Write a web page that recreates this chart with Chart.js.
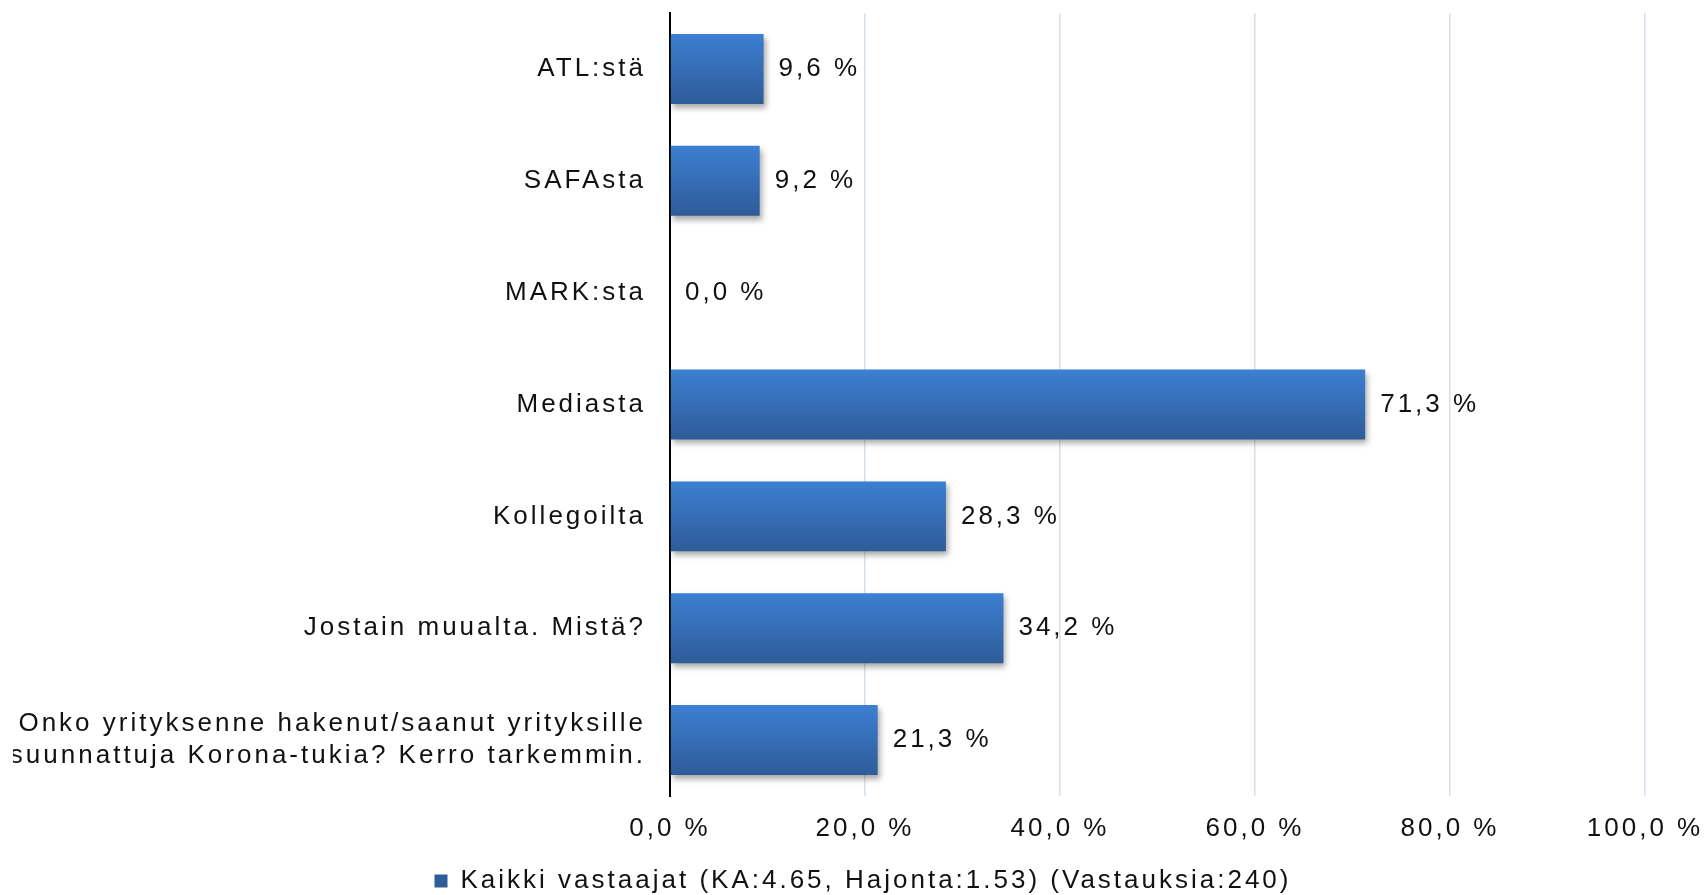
<!DOCTYPE html>
<html lang="fi">
<head>
<meta charset="utf-8">
<title>Mistä olette saaneet tietoa</title>
<script src="https://cdn.jsdelivr.net/npm/chart.js@4/dist/chart.umd.min.js"></script>
<style>
  html, body { margin:0; padding:0; background:#fff; }
  .wrap { width:1704px; height:895px; position:relative; }
</style>
</head>
<body>
<div class="wrap"><canvas id="chart"></canvas></div>
<script>
// answer categories, top to bottom
const categories = [
  'ATL:stä',
  'SAFAsta',
  'MARK:sta',
  'Mediasta',
  'Kollegoilta',
  'Jostain muualta. Mistä?',
  ['Onko yrityksenne hakenut/saanut yrityksille', 'suunnattuja Korona-tukia? Kerro tarkemmin.']
];
// share of respondents, %
const shares = [9.6, 9.2, 0.0, 71.3, 28.3, 34.2, 21.3];
const xTicks = [0, 20, 40, 60, 80, 100];
const seriesName = 'Kaikki vastaajat (KA:4.65, Hajonta:1.53) (Vastauksia:240)';

const FONT = "'Liberation Sans', Arial, sans-serif";
const BAR_PCT = 0.625;
const fmt = v => v.toFixed(1).replace('.', ',') + ' %';

// vertical gradient per bar, built from the category scale
function barFill(c){
  const chart = c.chart; const y = chart.scales && chart.scales.y;
  if(!chart.chartArea || !y || c.dataIndex === undefined) return '#3670bd';
  const cy = y.getPixelForValue(c.dataIndex);
  const half = (y.height / categories.length) * BAR_PCT / 2;
  const g = chart.ctx.createLinearGradient(0, cy - half, 0, cy + half);
  g.addColorStop(0, '#3c7fd3');
  g.addColorStop(1, '#2e5c98');
  return g;
}

// wider tracking on all canvas text
const spacing = {
  id:'spacing',
  beforeUpdate(chart){ chart.ctx.letterSpacing = '3px'; },
  beforeRender(chart){ chart.ctx.letterSpacing = '3px'; }
};

// legend sits a bit right of the canvas centre
const legendShift = {
  id:'legendShift',
  afterLayout(chart){ const lg = chart.legend; if(lg){ lg.left += 34; lg.right += 34; } }
};

// soft drop shadow under the bars
const barShadow = {
  id:'barShadow',
  beforeDatasetDraw(chart){
    const ctx = chart.ctx; ctx.save();
    ctx.shadowColor = 'rgba(0,0,0,0.35)'; ctx.shadowBlur = 6; ctx.shadowOffsetX = 2; ctx.shadowOffsetY = 4;
  },
  afterDatasetDraw(chart){ chart.ctx.restore(); }
};

// value labels right of each bar
const valueLabels = {
  id:'valueLabels',
  afterDatasetsDraw(chart){
    const ctx = chart.ctx; const meta = chart.getDatasetMeta(0);
    ctx.save();
    ctx.font = '26px ' + FONT; ctx.fillStyle = '#111'; ctx.textAlign = 'left'; ctx.textBaseline = 'middle';
    meta.data.forEach((bar, i) => { ctx.fillText(fmt(shares[i]), bar.x + 15, bar.y); });
    ctx.restore();
  }
};

new Chart(document.getElementById('chart'), {
  type:'bar',
  data:{
    labels:categories,
    datasets:[{ label:seriesName, data:shares, backgroundColor:barFill, borderWidth:0, barPercentage:BAR_PCT, categoryPercentage:1 }]
  },
  options:{
    indexAxis:'y', responsive:true, maintainAspectRatio:false, animation:false,
    layout:{ padding:{ top:13, left:13, right:59, bottom:-9 } },
    scales:{
      x:{
        min:0, max:100,
        afterBuildTicks(scale){ scale.ticks = xTicks.map(v => ({ value:v })); },
        afterFit(scale){ scale.height = 72; scale.paddingLeft = 0; scale.paddingRight = 0; },
        grid:{ drawTicks:false, color:c => c.tick && c.tick.value === 0 ? 'rgba(0,0,0,0)' : '#d6e0ec', lineWidth:1.5 },
        border:{ display:false },
        ticks:{ padding:17, color:'#111', font:{ family:FONT, size:26 }, callback:v => fmt(v) }
      },
      y:{
        afterFit(scale){ scale.width = 657; scale.paddingTop = 0; scale.paddingBottom = 0; },
        grid:{ display:false, drawTicks:false },
        border:{ display:true, color:'#000', width:2 },
        ticks:{ padding:24, color:'#111', font:{ family:FONT, size:26, lineHeight:1.25 } }
      }
    },
    plugins:{
      legend:{ position:'bottom', labels:{ boxWidth:13, boxHeight:13, padding:0, color:'#111', font:{ family:FONT, size:26 } } },
      tooltip:{ enabled:false }
    }
  },
  plugins:[spacing, legendShift, barShadow, valueLabels]
});
</script>
</body>
</html>
